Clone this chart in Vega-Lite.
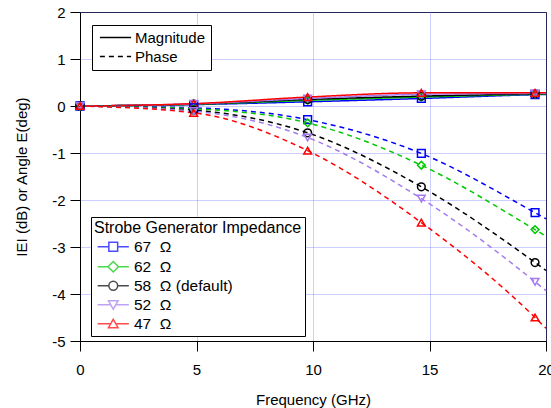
{
  "$schema": "https://vega.github.io/schema/vega-lite/v6.json",
  "width": 466,
  "height": 329,
  "autosize": {"type": "none"},
  "padding": {"left": 80, "top": 12, "right": 5, "bottom": 67},
  "config": {
    "font": "Liberation Sans",
    "view": {"stroke": "black", "strokeWidth": 1},
    "axis": {
      "labelFont": "Liberation Sans", "labelFontSize": 15, "labelColor": "black",
      "titleFont": "Liberation Sans", "titleFontSize": 15, "titleFontWeight": "normal", "titleColor": "black",
      "domainColor": "black", "tickColor": "black", "tickSize": 10,
      "gridColor": "#7070ff", "gridDash": [1, 1], "gridOpacity": 0.7, "gridWidth": 1
    },
    "legend": {
      "labelFont": "Liberation Sans", "labelFontSize": 15, "labelColor": "black",
      "titleFont": "Liberation Sans", "titleFontSize": 15, "titleFontWeight": "normal", "titleColor": "black",
      "titleLimit": 500, "labelLimit": 300
    }
  },
  "data": {
    "values": [
      {"f": 0, "imp": "67 \u00a0Ω", "kind": "Magnitude", "v": 0},
      {"f": 4.88, "imp": "67 \u00a0Ω", "kind": "Magnitude", "v": 0.03},
      {"f": 9.77, "imp": "67 \u00a0Ω", "kind": "Magnitude", "v": 0.09},
      {"f": 14.65, "imp": "67 \u00a0Ω", "kind": "Magnitude", "v": 0.16},
      {"f": 19.53, "imp": "67 \u00a0Ω", "kind": "Magnitude", "v": 0.24},
      {"f": 20, "imp": "67 \u00a0Ω", "kind": "Magnitude", "v": 0.245},
      {"f": 0, "imp": "62 \u00a0Ω", "kind": "Magnitude", "v": 0},
      {"f": 4.88, "imp": "62 \u00a0Ω", "kind": "Magnitude", "v": 0.035},
      {"f": 9.77, "imp": "62 \u00a0Ω", "kind": "Magnitude", "v": 0.12},
      {"f": 14.65, "imp": "62 \u00a0Ω", "kind": "Magnitude", "v": 0.19},
      {"f": 19.53, "imp": "62 \u00a0Ω", "kind": "Magnitude", "v": 0.25},
      {"f": 20, "imp": "62 \u00a0Ω", "kind": "Magnitude", "v": 0.255},
      {"f": 0, "imp": "58 \u00a0Ω (default)", "kind": "Magnitude", "v": 0},
      {"f": 4.88, "imp": "58 \u00a0Ω (default)", "kind": "Magnitude", "v": 0.04},
      {"f": 9.77, "imp": "58 \u00a0Ω (default)", "kind": "Magnitude", "v": 0.14},
      {"f": 14.65, "imp": "58 \u00a0Ω (default)", "kind": "Magnitude", "v": 0.21},
      {"f": 19.53, "imp": "58 \u00a0Ω (default)", "kind": "Magnitude", "v": 0.26},
      {"f": 20, "imp": "58 \u00a0Ω (default)", "kind": "Magnitude", "v": 0.265},
      {"f": 0, "imp": "52 \u00a0Ω", "kind": "Magnitude", "v": 0},
      {"f": 4.88, "imp": "52 \u00a0Ω", "kind": "Magnitude", "v": 0.045},
      {"f": 9.77, "imp": "52 \u00a0Ω", "kind": "Magnitude", "v": 0.16},
      {"f": 14.65, "imp": "52 \u00a0Ω", "kind": "Magnitude", "v": 0.25},
      {"f": 19.53, "imp": "52 \u00a0Ω", "kind": "Magnitude", "v": 0.27},
      {"f": 20, "imp": "52 \u00a0Ω", "kind": "Magnitude", "v": 0.272},
      {"f": 0, "imp": "47 \u00a0Ω", "kind": "Magnitude", "v": 0},
      {"f": 4.88, "imp": "47 \u00a0Ω", "kind": "Magnitude", "v": 0.05},
      {"f": 9.77, "imp": "47 \u00a0Ω", "kind": "Magnitude", "v": 0.19},
      {"f": 14.65, "imp": "47 \u00a0Ω", "kind": "Magnitude", "v": 0.28},
      {"f": 19.53, "imp": "47 \u00a0Ω", "kind": "Magnitude", "v": 0.28},
      {"f": 20, "imp": "47 \u00a0Ω", "kind": "Magnitude", "v": 0.28},
      {"f": 0, "imp": "67 \u00a0Ω", "kind": "Phase", "v": 0},
      {"f": 4.88, "imp": "67 \u00a0Ω", "kind": "Phase", "v": -0.04},
      {"f": 9.77, "imp": "67 \u00a0Ω", "kind": "Phase", "v": -0.29},
      {"f": 14.65, "imp": "67 \u00a0Ω", "kind": "Phase", "v": -1.01},
      {"f": 19.53, "imp": "67 \u00a0Ω", "kind": "Phase", "v": -2.27},
      {"f": 20, "imp": "67 \u00a0Ω", "kind": "Phase", "v": -2.4},
      {"f": 0, "imp": "62 \u00a0Ω", "kind": "Phase", "v": 0},
      {"f": 4.88, "imp": "62 \u00a0Ω", "kind": "Phase", "v": -0.06},
      {"f": 9.77, "imp": "62 \u00a0Ω", "kind": "Phase", "v": -0.36},
      {"f": 14.65, "imp": "62 \u00a0Ω", "kind": "Phase", "v": -1.26},
      {"f": 19.53, "imp": "62 \u00a0Ω", "kind": "Phase", "v": -2.63},
      {"f": 20, "imp": "62 \u00a0Ω", "kind": "Phase", "v": -2.77},
      {"f": 0, "imp": "58 \u00a0Ω (default)", "kind": "Phase", "v": 0},
      {"f": 4.88, "imp": "58 \u00a0Ω (default)", "kind": "Phase", "v": -0.09},
      {"f": 9.77, "imp": "58 \u00a0Ω (default)", "kind": "Phase", "v": -0.57},
      {"f": 14.65, "imp": "58 \u00a0Ω (default)", "kind": "Phase", "v": -1.72},
      {"f": 19.53, "imp": "58 \u00a0Ω (default)", "kind": "Phase", "v": -3.33},
      {"f": 20, "imp": "58 \u00a0Ω (default)", "kind": "Phase", "v": -3.5},
      {"f": 0, "imp": "52 \u00a0Ω", "kind": "Phase", "v": 0},
      {"f": 4.88, "imp": "52 \u00a0Ω", "kind": "Phase", "v": -0.11},
      {"f": 9.77, "imp": "52 \u00a0Ω", "kind": "Phase", "v": -0.67},
      {"f": 14.65, "imp": "52 \u00a0Ω", "kind": "Phase", "v": -1.97},
      {"f": 19.53, "imp": "52 \u00a0Ω", "kind": "Phase", "v": -3.74},
      {"f": 20, "imp": "52 \u00a0Ω", "kind": "Phase", "v": -3.93},
      {"f": 0, "imp": "47 \u00a0Ω", "kind": "Phase", "v": 0},
      {"f": 4.88, "imp": "47 \u00a0Ω", "kind": "Phase", "v": -0.145},
      {"f": 9.77, "imp": "47 \u00a0Ω", "kind": "Phase", "v": -0.95},
      {"f": 14.65, "imp": "47 \u00a0Ω", "kind": "Phase", "v": -2.48},
      {"f": 19.53, "imp": "47 \u00a0Ω", "kind": "Phase", "v": -4.5},
      {"f": 20, "imp": "47 \u00a0Ω", "kind": "Phase", "v": -4.73}
    ]
  },
  "encoding": {
    "x": {
      "field": "f", "type": "quantitative",
      "scale": {"domain": [0, 20], "nice": false, "zero": false},
      "axis": {"title": "Frequency (GHz)", "values": [0, 5, 10, 15, 20], "grid": true, "labelPadding": 11, "titlePadding": 15, "labelFlush": false}
    },
    "y": {
      "field": "v", "type": "quantitative",
      "scale": {"domain": [-5, 2], "nice": false, "zero": false},
      "axis": {"title": "IEI (dB) or Angle E(deg)", "values": [-5, -4, -3, -2, -1, 0, 1, 2], "grid": true, "labelPadding": 5, "titlePadding": 22, "labelExpr": "'' + datum.value", "labelFlush": false}
    }
  },
  "layer": [
    {
      "mark": {"type": "line", "interpolate": "monotone", "strokeWidth": 1.5},
      "encoding": {
        "color": {
          "field": "imp", "type": "nominal",
          "scale": {"domain": ["67 \u00a0Ω", "62 \u00a0Ω", "58 \u00a0Ω (default)", "52 \u00a0Ω", "47 \u00a0Ω"], "range": ["#0000ff", "#00c800", "#000000", "#a47cf0", "#ff0000"]},
          "legend": null
        },
        "strokeDash": {
          "field": "kind", "type": "nominal",
          "scale": {"domain": ["Magnitude", "Phase"], "range": [[1, 0], [5, 4]]},
          "legend": {
            "title": null, "orient": "none", "legendX": 12, "legendY": 13,
            "strokeColor": "black", "fillColor": "white", "padding": 5,
            "symbolType": "M-3.9,0H3.9", "symbolSize": 64, "symbolStrokeColor": "black", "symbolStrokeWidth": 1.5,
            "symbolOffset": 11, "labelOffset": 12, "rowPadding": 3
          }
        }
      }
    },
    {
      "transform": [{"filter": "datum.f < 19.9"}],
      "mark": {"type": "point", "filled": false, "strokeWidth": 1.5, "size": 60, "opacity": 1},
      "encoding": {
        "color": {
          "field": "imp", "type": "nominal",
          "scale": {"domain": ["67 \u00a0Ω", "62 \u00a0Ω", "58 \u00a0Ω (default)", "52 \u00a0Ω", "47 \u00a0Ω"], "range": ["#0000ff", "#00c800", "#000000", "#a47cf0", "#ff0000"]},
          "legend": null
        },
        "shape": {
          "field": "imp", "type": "nominal",
          "scale": {"domain": ["67 \u00a0Ω", "62 \u00a0Ω", "58 \u00a0Ω (default)", "52 \u00a0Ω", "47 \u00a0Ω"], "range": ["square", "diamond", "circle", "triangle-down", "triangle-up"]},
          "legend": null
        }
      }
    },
    {
      "transform": [{"filter": "datum.f > 100"}],
      "mark": {"type": "point", "filled": false, "strokeWidth": 1.5, "size": 64},
      "encoding": {
        "color": {
          "field": "imp", "type": "nominal",
          "scale": {"domain": ["67 \u00a0Ω", "62 \u00a0Ω", "58 \u00a0Ω (default)", "52 \u00a0Ω", "47 \u00a0Ω"], "range": ["#0000ff", "#00c800", "#000000", "#a47cf0", "#ff0000"]},
          "legend": {
            "title": "Strobe Generator Impedance", "orient": "none", "legendX": 11, "legendY": 205,
            "strokeColor": "black", "fillColor": "white", "padding": 3, "titlePadding": 3,
            "titleFontSize": 16, "labelFontSize": 15.5,
            "symbolSize": 64, "symbolStrokeWidth": 1.5, "symbolOffset": 11.5, "labelOffset": 13, "rowPadding": 2
          }
        },
        "shape": {
          "field": "imp", "type": "nominal",
          "scale": {
            "domain": ["67 \u00a0Ω", "62 \u00a0Ω", "58 \u00a0Ω (default)", "52 \u00a0Ω", "47 \u00a0Ω"],
            "range": [
              "M-3.9,0H-1.1M1.1,0H3.9M-1.1,-1.1H1.1V1.1H-1.1Z",
              "M-3.9,0H-1.3M1.3,0H3.9M0,-1.3L1.3,0L0,1.3L-1.3,0Z",
              "M-3.9,0H-1.1M1.1,0H3.9M1.1,0A1.1,1.1,0,1,1,-1.1,0A1.1,1.1,0,1,1,1.1,0Z",
              "M-3.9,0H-0.63M0.63,0H3.9M-1.2,-1H1.2L0,1.1Z",
              "M-3.9,0H-0.63M0.63,0H3.9M0,-1.1L1.2,1H-1.2Z"
            ]
          },
          "legend": {
            "title": "Strobe Generator Impedance", "orient": "none", "legendX": 11, "legendY": 205,
            "strokeColor": "black", "fillColor": "white", "padding": 3, "titlePadding": 3,
            "titleFontSize": 16, "labelFontSize": 15.5,
            "symbolSize": 64, "symbolStrokeWidth": 1.5, "symbolOffset": 11.5, "labelOffset": 13, "rowPadding": 2
          }
        }
      }
    }
  ],
  "resolve": {"scale": {"color": "independent", "shape": "independent"}}
}
